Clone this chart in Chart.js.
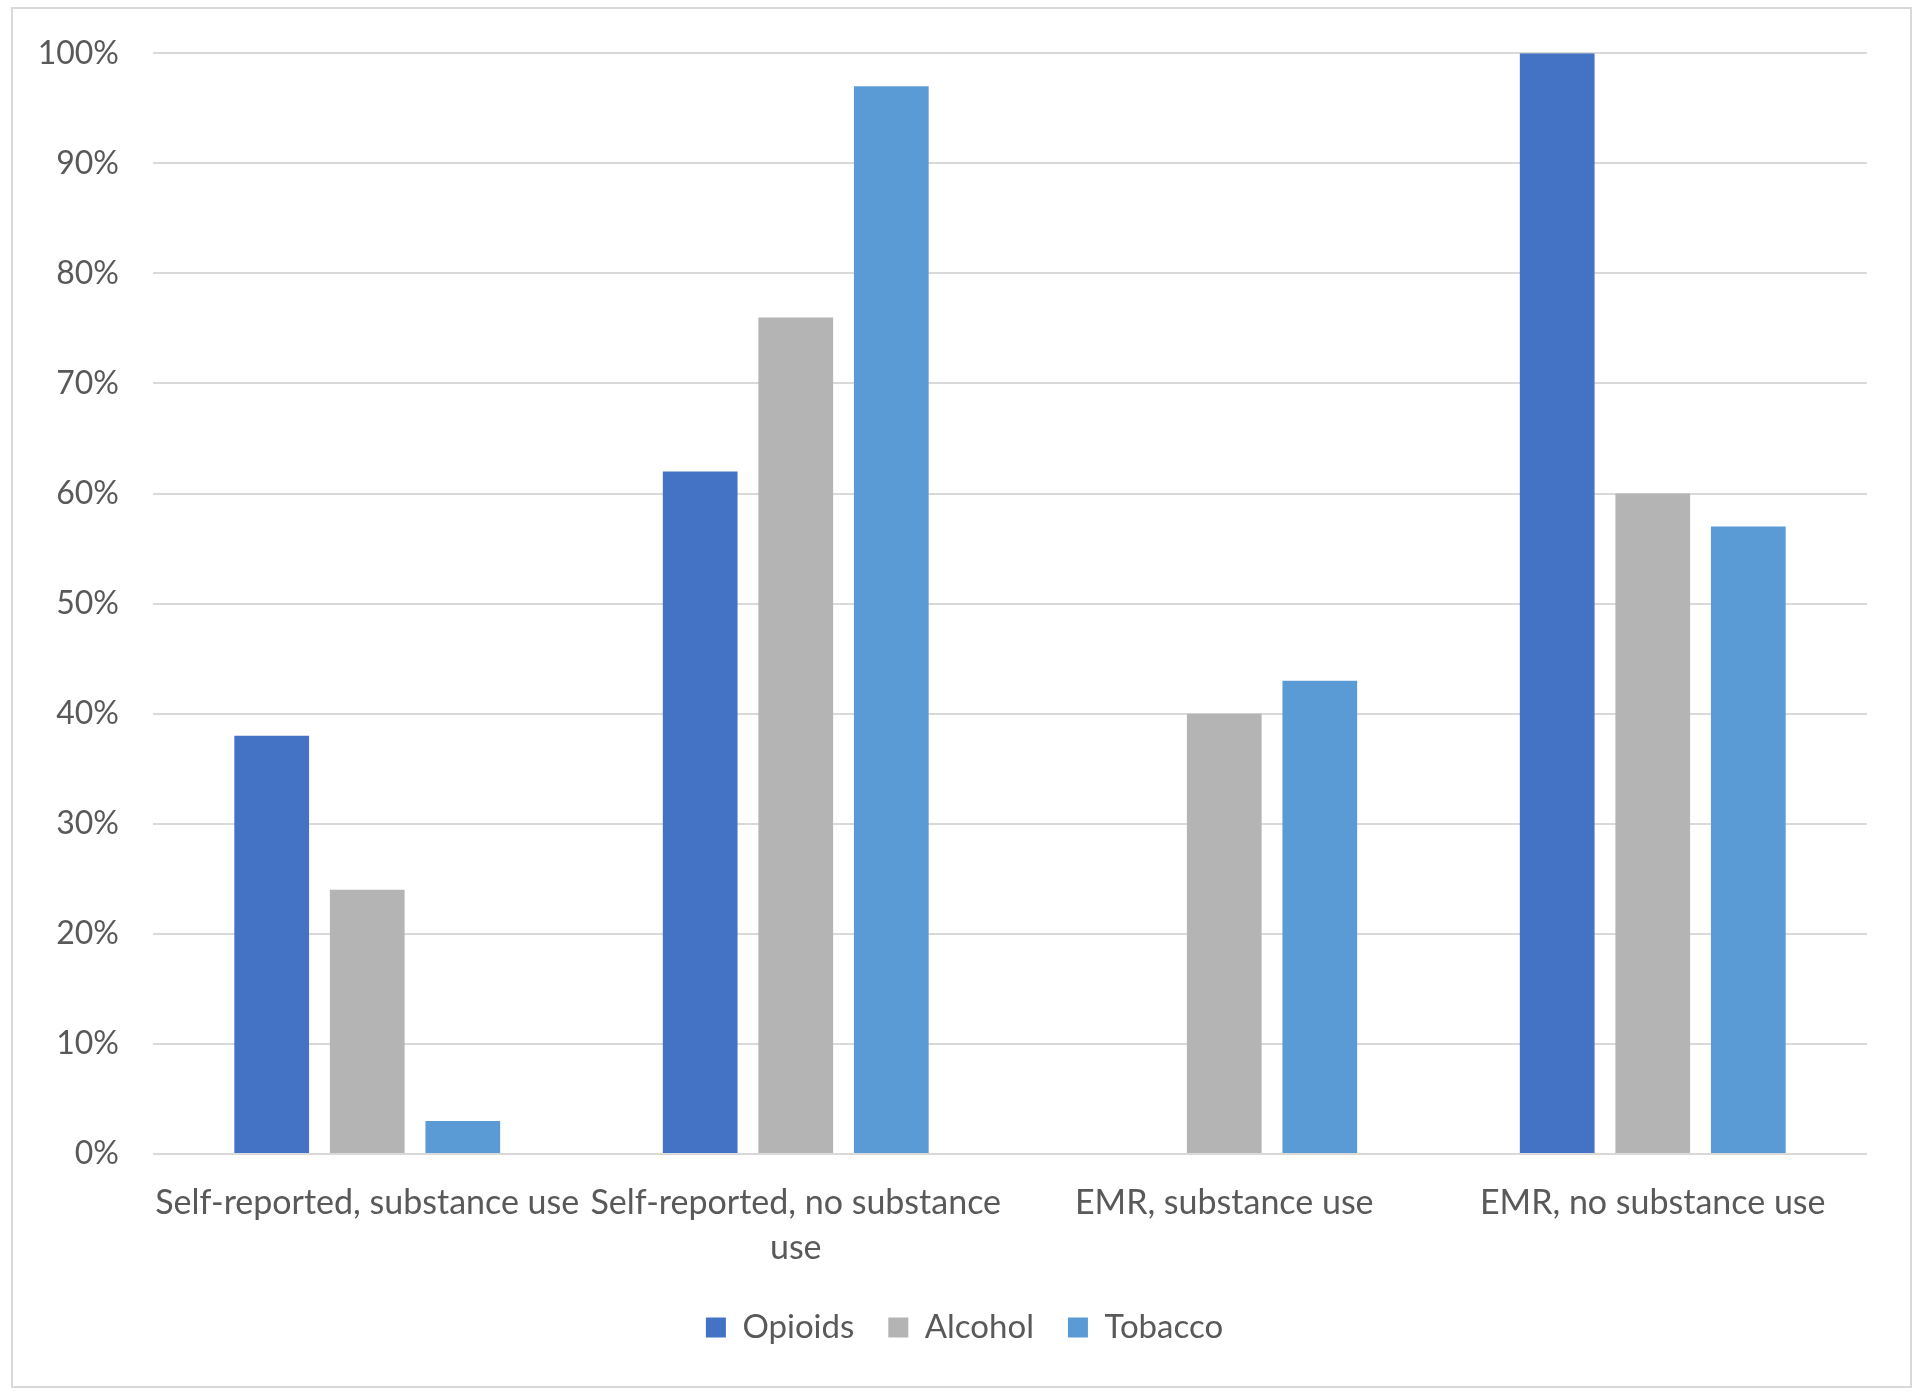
<!DOCTYPE html>
<html>
<head>
<meta charset="utf-8">
<script src="https://cdn.jsdelivr.net/npm/chart.js@4/dist/chart.umd.min.js"></script>
<style>
  html, body { margin: 0; padding: 0; background: #fff; }
  #wrap { width: 1920px; height: 1399px; position: relative; }
</style>
</head>
<body>
<div id="wrap"><canvas id="barChart" width="1920" height="1399"></canvas></div>
<script>
const kategorien = [
  "Self-reported, substance use",
  ["Self-reported, no substance", "use"],
  "EMR, substance use",
  "EMR, no substance use"
];
const opioide = [38, 62, 0, 100];
const alkohol = [24, 76, 40, 60];
const tabak = [3, 97, 43, 57];
const yTicks = [0, 10, 20, 30, 40, 50, 60, 70, 80, 90, 100];

const TEXT = "#595959";
const GRID = "#D9D9D9";

// weisser Hintergrund und Rahmen wie im Excel-Export
const rahmen = {
  id: "rahmen",
  afterLayout(chart) {
    // y-Achse bis zum linken Rand, damit "100%" nicht abgeschnitten wird
    chart.scales.y.left = 0;
  },
  beforeDraw(chart) {
    const c = chart.ctx;
    c.save();
    c.fillStyle = "#fff";
    c.fillRect(0, 0, chart.width, chart.height);
    c.strokeStyle = GRID;
    c.lineWidth = 2;
    c.strokeRect(12, 8, 1899, 1379);
    c.restore();
  }
};

const config = {
  type: "bar",
  data: {
    labels: kategorien,
    datasets: [
      { label: "Opioids", data: opioide, backgroundColor: "#4472C4" },
      { label: "Alcohol", data: alkohol, backgroundColor: "#B4B4B4" },
      { label: "Tobacco", data: tabak, backgroundColor: "#5B9BD5" }
    ]
  },
  options: {
    responsive: false,
    animation: false,
    categoryPercentage: 0.669,
    barPercentage: 0.782,
    layout: { padding: { left: 62, right: 53, top: 51, bottom: 45 } },
    plugins: {
      tooltip: { enabled: false },
      legend: {
        position: "bottom",
        labels: {
          color: TEXT,
          font: { family: "Lato", size: 33 },
          boxWidth: 20,
          boxHeight: 20,
          padding: 34
        }
      }
    },
    scales: {
      x: {
        grid: { display: false },
        border: { display: false },
        ticks: {
          color: TEXT,
          font: { family: "Lato", size: 34, lineHeight: 1.33 },
          padding: 18,
          maxRotation: 0,
          autoSkip: false
        },
        afterFit(scale) { scale.height = 123; }
      },
      y: {
        min: 0,
        max: 100,
        afterBuildTicks(scale) { scale.ticks = yTicks.map(v => ({ value: v })); },
        grid: { color: GRID, lineWidth: 2, drawTicks: false },
        border: { display: false },
        ticks: {
          color: TEXT,
          font: { family: "Lato", size: 32 },
          padding: 34,
          callback: v => v + "%"
        },
        afterFit(scale) { scale.width = 91; }
      }
    }
  },
  plugins: [rahmen]
};

new Chart(document.getElementById("barChart"), config);
</script>
</body>
</html>
